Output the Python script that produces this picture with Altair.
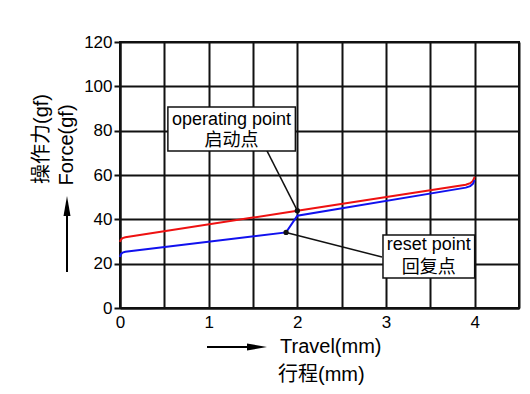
import altair as alt
import pandas as pd

# ---- data ----
travel_red = [0.0, 0.01, 0.03, 0.06, 2.0, 3.9, 3.95, 3.98, 4.0]
force_red = [29.8, 30.9, 31.5, 31.9, 43.9, 55.6, 56.3, 57.3, 59.2]
travel_blue = [0.0, 0.01, 0.03, 0.06, 1.873, 2.0, 3.9, 3.95, 3.98, 4.0]
force_blue = [23.0, 24.3, 25.0, 25.4, 34.1, 41.6, 54.3, 55.0, 56.0, 57.7]

x_ticks = [0, 0.5, 1, 1.5, 2, 2.5, 3, 3.5, 4, 4.5]
y_ticks = [0, 20, 40, 60, 80, 100, 120]

point_en = ["operating point", "reset point"]
point_cn = ["启动点", "回复点"]
point_x = [2.0, 1.873]
point_y = [43.9, 34.1]

# annotation boxes (data coordinates)
box_x = [0.54, 2.966]
box_x2 = [1.978, 4.0]
box_y = [90.7, 32.9]
box_y2 = [70.8, 13.5]
lead_x = [1.652, 2.955]
lead_y = [71.3, 23.0]
text_x = [1.258, 3.483]
en_y = [82.6, 26.2]
cn_y = [73.1, 15.8]

LATIN = "Liberation Sans"
CJK = "Liberation Sans, Noto Sans CJK SC"

lines = pd.concat([
    pd.DataFrame({"travel": travel_red, "force": force_red, "series": "red",
                  "order": range(len(travel_red))}),
    pd.DataFrame({"travel": travel_blue, "force": force_blue, "series": "blue",
                  "order": range(len(travel_blue))}),
])

pts = pd.DataFrame({"x": point_x, "y": point_y, "lx": lead_x, "ly": lead_y})
boxes = pd.DataFrame({"x": box_x, "x2": box_x2, "y": box_y, "y2": box_y2,
                      "tx": text_x, "en": point_en, "cn": point_cn,
                      "ey": en_y, "cy": cn_y})

xs = alt.Scale(domain=[0, 4.5], nice=False, zero=False)
ys = alt.Scale(domain=[0, 120], nice=False)

x_axis = alt.Axis(values=x_ticks, title=None, ticks=False, grid=True,
                  gridColor="#111", gridWidth=2, domainColor="#111", domainWidth=2,
                  labelExpr="datum.value % 1 === 0 ? '' + datum.value : ''",
                  labelFontSize=17, labelFont=LATIN, labelColor="black",
                  labelPadding=6, labelFlush=False, labelOverlap=False)
y_axis = alt.Axis(values=y_ticks, title=None, tickSize=6, tickWidth=2, tickColor="#111",
                  grid=True, gridColor="#111", gridWidth=2, domainColor="#111", domainWidth=2,
                  labelFontSize=17, labelFont=LATIN, labelColor="black",
                  labelPadding=2, labelFlush=False, labelOverlap=False)

line_layer = alt.Chart(lines).mark_line(strokeWidth=2).encode(
    x=alt.X("travel:Q", scale=xs, axis=x_axis),
    y=alt.Y("force:Q", scale=ys, axis=y_axis),
    color=alt.Color("series:N", scale=alt.Scale(domain=["red", "blue"],
                                                range=["#ee1111", "#1111ee"]), legend=None),
    order="order:Q",
)

leaders = alt.Chart(pts).mark_rule(color="#111", strokeWidth=1.5).encode(
    x="x:Q", y="y:Q", x2="lx:Q", y2="ly:Q")

dots = alt.Chart(pts).mark_point(filled=True, color="#111", size=28, opacity=1).encode(
    x="x:Q", y="y:Q")

rects = alt.Chart(boxes).mark_rect(fill="white", stroke="#111", strokeWidth=1.5).encode(
    x="x:Q", x2="x2:Q", y="y:Q", y2="y2:Q")

en_text = alt.Chart(boxes).mark_text(font=LATIN, fontSize=18, color="black",
                                     align="center", baseline="alphabetic").encode(
    x="tx:Q", y="ey:Q", text="en:N")
cn_text = alt.Chart(boxes).mark_text(font=CJK, fontSize=18, color="black",
                                     align="center", baseline="alphabetic").encode(
    x="tx:Q", y="cy:Q", text="cn:N")

one = pd.DataFrame({"k": [0]})

x_title1 = alt.Chart(one).mark_text(font=LATIN, fontSize=20, color="black",
                                    align="left", baseline="alphabetic").encode(
    x=alt.value(160), y=alt.value(311), text=alt.value("Travel(mm)"))
x_title2 = alt.Chart(one).mark_text(font=CJK, fontSize=20, color="black",
                                    align="left", baseline="alphabetic").encode(
    x=alt.value(158), y=alt.value(339), text=alt.value("行程(mm)"))
x_arrow = alt.Chart(one).mark_rule(color="black", strokeWidth=2).encode(
    x=alt.value(87), x2=alt.value(132), y=alt.value(305))
x_head = alt.Chart(one).mark_point(shape="M-1,-0.35L1,0L-1,0.35Z", filled=True,
                                   color="black", size=400, opacity=1).encode(
    x=alt.value(137), y=alt.value(305))

y_title1 = alt.Chart(one).mark_text(font=LATIN, fontSize=20, color="black", angle=270,
                                    align="center", baseline="alphabetic").encode(
    x=alt.value(-47), y=alt.value(103), text=alt.value("Force(gf)"))
y_title2 = alt.Chart(one).mark_text(font=CJK, fontSize=20, color="black", angle=270,
                                    align="center", baseline="alphabetic").encode(
    x=alt.value(-72), y=alt.value(97), text=alt.value("操作力(gf)"))
y_arrow = alt.Chart(one).mark_rule(color="black", strokeWidth=2).encode(
    x=alt.value(-53), y=alt.value(168), y2=alt.value(230))
y_head = alt.Chart(one).mark_point(shape="M-0.35,1L0,-1L0.35,1Z", filled=True,
                                   color="black", size=400, opacity=1).encode(
    x=alt.value(-53), y=alt.value(164))

chart = alt.layer(
    line_layer, leaders, dots, rects, en_text, cn_text,
    x_title1, x_title2, x_arrow, x_head, y_title1, y_title2, y_arrow, y_head,
).properties(
    width=399, height=266,
    autosize=alt.AutoSizeParams(type="none"),
    padding={"left": 112, "top": 34, "right": 3, "bottom": 80},
    background="white",
).configure_view(stroke="#111", strokeWidth=2)

chart.save("out.html", embed_options={"renderer": "svg", "actions": False})
